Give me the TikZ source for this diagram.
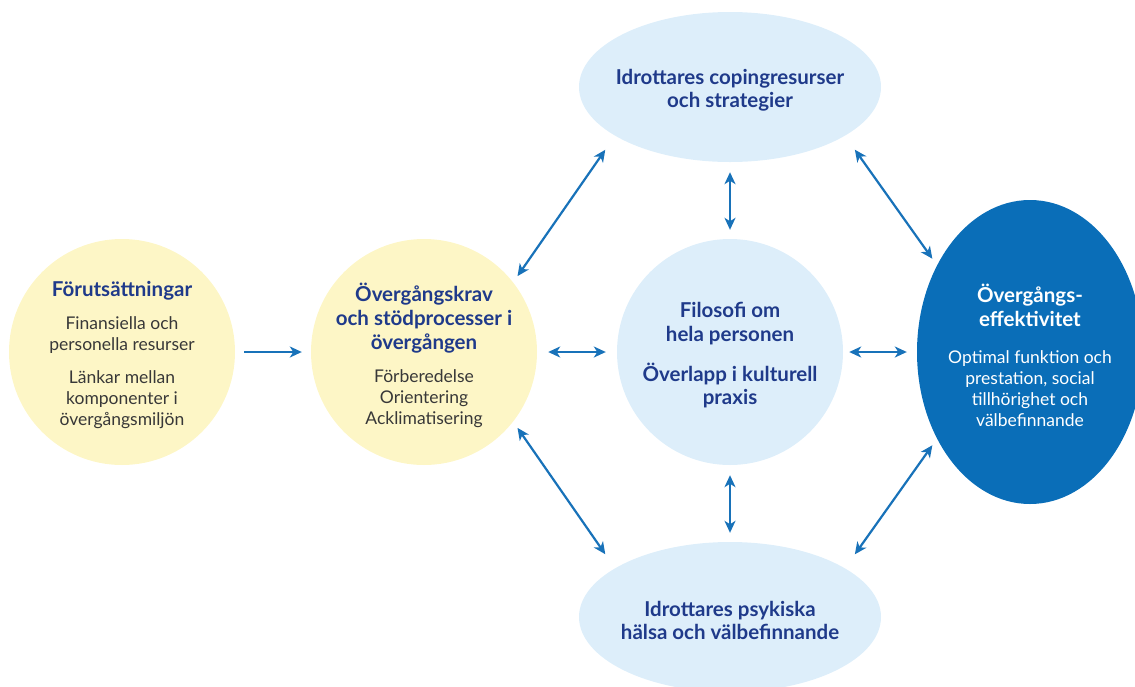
\documentclass[tikz,border=0pt]{standalone}
\usepackage{fontspec}
\setmainfont{Lato}
\usetikzlibrary{arrows.meta,shapes.geometric}

\definecolor{sandyellow}{HTML}{FDF6C6}
\definecolor{paleblue}{HTML}{DDEEFA}
\definecolor{deepblue}{HTML}{0A6EB8}
\definecolor{arrowblue}{HTML}{1872B9}
\definecolor{navytext}{HTML}{1F3A8A}
\definecolor{greytext}{HTML}{383838}

\newcommand\hd[2][navytext]{{\color{#1}\fontsize{20.5}{21}\selectfont\bfseries #2}}
\newcommand\bd[2][greytext]{{\color{#1}\fontsize{17.5}{21}\selectfont #2}}
\newcommand\packlines{\fontsize{17}{21}\selectfont\lineskiplimit=-50pt\relax}

\tikzset{
  disc/.style={circle, minimum size=226pt, inner sep=0pt},
  oval/.style={ellipse, minimum width=302pt, minimum height=150pt, inner sep=0pt, fill=paleblue},
  txt/.style={align=center, inner sep=0pt, yshift=-3pt, font=\packlines},
  link/.style={arrowblue, line width=2.2pt, >={Stealth[length=12pt,width=11pt,inset=3.5pt]}},
}

\begin{document}
\begin{tikzpicture}[x=1pt,y=-1pt]
    \useasboundingbox (0,0) rectangle (1135,686);
    \clip (0,0) rectangle (1135,686);
    % shapes
    \node[disc, fill=sandyellow] (prereq) at (122,352) {};
    \node[disc, fill=sandyellow] (demands) at (424,352) {};
    \node[disc, fill=paleblue] (whole) at (730,352) {};
    \node[oval] (coping) at (730,87) {};
    \node[oval] (health) at (730,617) {};
    \node[ellipse, minimum width=226pt, minimum height=304pt, inner sep=0pt, fill=deepblue] (effect) at (1030,352) {};
    % texts
    \node[txt] (prereqtxt) at (prereq) {\hd{Förutsättningar}\\[12pt]\bd{Finansiella och}\\ \bd{personella resurser}\\[12pt] \bd{Länkar mellan}\\ \bd{komponenter i}\\ \bd{övergångsmiljön}};
    \node[txt] (demandstxt) at (demands) {\hd{Övergångskrav}\\[3pt] \hd{och stödprocesser i}\\[3pt] \hd{övergången}\\[12pt] \bd{Förberedelse}\\ \bd{Orientering}\\ \bd{Acklimatisering}};
    \node[txt] (wholetxt) at (whole) {\hd{Filosofi om}\\[3pt] \hd{hela personen}\\[19pt] \hd{Överlapp i kulturell}\\[2pt] \hd{praxis}};
    \node[txt] (copingtxt) at (coping) {\hd{Idrottares copingresurser}\\[2pt] \hd{och strategier}};
    \node[txt] (healthtxt) at (health) {\hd{Idrottares psykiska}\\[2pt] \hd{hälsa och välbefinnande}};
    \node[txt] (effecttxt) at (effect) {\hd[white]{Övergångs-}\\[3pt] \hd[white]{effektivitet}\\[16pt] \bd[white]{Optimal funktion och}\\ \bd[white]{prestation, social}\\ \bd[white]{tillhörighet och}\\ \bd[white]{välbefinnande}};
    % arrows
    \draw[link,->,shorten <=9pt,shorten >=9pt] (prereq.east) -- (demands.west);
    \draw[link,<->,shorten <=11pt,shorten >=11pt] (demands.east) -- (whole.west);
    \draw[link,<->,shorten <=6pt,shorten >=10pt] (whole.east) -- (effect.west);
    \draw[link,<->,shorten <=10pt,shorten >=9pt] (coping.south) -- (whole.north);
    \draw[link,<->,shorten <=10pt,shorten >=9pt] (whole.south) -- (health.north);
    \draw[link,<->,shorten <=7.5pt,shorten >=17pt] (demands.38) -- (coping.203);
    \draw[link,<->,shorten <=7.5pt,shorten >=17pt] (demands.-38) -- (health.157);
    \draw[link,<->,shorten <=17pt,shorten >=8pt] (coping.337) -- (effect.137);
    \draw[link,<->,shorten <=17pt,shorten >=8pt] (health.23) -- (effect.223);
\end{tikzpicture}
\end{document}
